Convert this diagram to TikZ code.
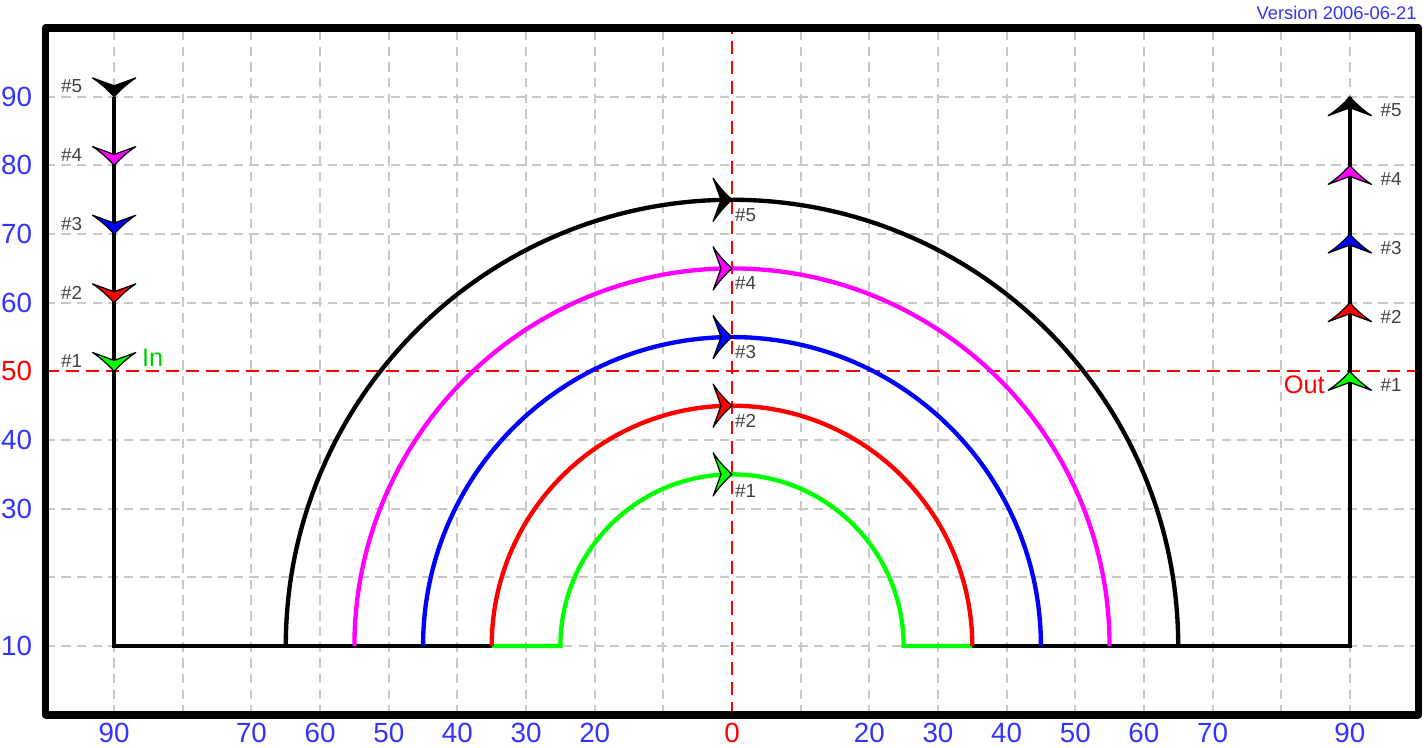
\documentclass[tikz,border=0pt]{standalone}
\usepackage{fontspec}
\setmainfont{Liberation Sans}
\definecolor{axisblue}{RGB}{51,51,255}
\definecolor{gridgray}{RGB}{200,200,200}
\definecolor{fgreen}{RGB}{0,255,0}
\definecolor{fred}{RGB}{255,0,0}
\definecolor{fblue}{RGB}{0,0,255}
\definecolor{fmag}{RGB}{255,0,255}
\newcommand\flowhead[4]{%
  \filldraw[ahd, fill=#4, shift={(#1,#2)}, rotate=#3]
    (0,0) .. controls (-1.0,0.9) and (-1.95,1.95) .. (-2.75,3.15)
    -- (-1.6,0) -- (-2.75,-3.15)
    .. controls (-1.95,-1.95) and (-1.0,-0.9) .. (0,0) -- cycle;}
\begin{document}
\begin{tikzpicture}[x=0.1cm,y=0.1cm,
  gridline/.style={draw=gridgray, line width=0.8pt, dash pattern=on 3.9pt off 2.6pt},
  axisline/.style={draw=fred, line width=0.8pt, dash pattern=on 5.4pt off 2.9pt},
  flow/.style={line width=1.8pt, line join=miter},
  frameline/.style={draw=black, line width=3.3pt, line join=round},
  axlabel/.style={font=\fontsize{11.5}{13}\selectfont, text=axisblue, inner sep=0pt},
  numlabel/.style={font=\fontsize{7.8}{9}\selectfont, text=black!75, inner sep=0pt},
  iolabel/.style={font=\fontsize{10.5}{12}\selectfont, inner sep=0pt},
  ahd/.style={draw=black, line width=0.5pt, line join=round}
]
\useasboundingbox (-106.63,-4.86) rectangle (100.80,104.10);
% grid
\foreach \x in {-90,-80,...,-10,10,20,...,90} \draw[gridline] (\x,0) -- (\x,100);
\foreach \y in {10,20,...,40,60,70,80,90} \draw[gridline] (-100,\y) -- (100,\y);
\draw[axisline] (0,0) -- (0,100);
\draw[axisline] (-100,50) -- (100,50);
% flow paths
\draw[flow] (-90,90) -- (-90,10) -- (-35,10);
\draw[flow] (35,10) -- (90,10) -- (90,90);
\draw[flow, fgreen] (-35,10) -- (-25,10) arc[start angle=180, end angle=0, radius=25] -- (35,10);
\draw[flow, fred] (-35,10) arc[start angle=180, end angle=0, radius=35];
\draw[flow, fblue] (-45,10) arc[start angle=180, end angle=0, radius=45];
\draw[flow, fmag] (-55,10) arc[start angle=180, end angle=0, radius=55];
\draw[flow, black] (-65,10) arc[start angle=180, end angle=0, radius=65];
% arrow heads, left (down)
\flowhead{-90}{90}{-90}{black}
\flowhead{-90}{80}{-90}{fmag}
\flowhead{-90}{70}{-90}{fblue}
\flowhead{-90}{60}{-90}{fred}
\flowhead{-90}{50}{-90}{fgreen}
% right (up)
\flowhead{90}{90}{90}{black}
\flowhead{90}{80}{90}{fmag}
\flowhead{90}{70}{90}{fblue}
\flowhead{90}{60}{90}{fred}
\flowhead{90}{50}{90}{fgreen}
% top of arcs (right)
\flowhead{0}{75}{0}{black}
\flowhead{0}{65}{0}{fmag}
\flowhead{0}{55}{0}{fblue}
\flowhead{0}{45}{0}{fred}
\flowhead{0}{35}{0}{fgreen}
% labels of arrows
\node[numlabel, anchor=east] (l5) at (-94.6,91.5) {\#5};
\node[numlabel, anchor=east] (l4) at (-94.6,81.5) {\#4};
\node[numlabel, anchor=east] (l3) at (-94.6,71.5) {\#3};
\node[numlabel, anchor=east] (l2) at (-94.6,61.5) {\#2};
\node[numlabel, anchor=east] (l1) at (-94.6,51.5) {\#1};
\node[numlabel, anchor=west] (r5) at (94.4,88) {\#5};
\node[numlabel, anchor=west] (r4) at (94.4,78) {\#4};
\node[numlabel, anchor=west] (r3) at (94.4,68) {\#3};
\node[numlabel, anchor=west] (r2) at (94.4,58) {\#2};
\node[numlabel, anchor=west] (r1) at (94.4,48) {\#1};
\node[numlabel, anchor=west] (t5) at (0.4,72.8) {\#5};
\node[numlabel, anchor=west] (t4) at (0.4,62.8) {\#4};
\node[numlabel, anchor=west] (t3) at (0.4,52.8) {\#3};
\node[numlabel, anchor=west] (t2) at (0.4,42.8) {\#2};
\node[numlabel, anchor=west] (t1) at (0.4,32.6) {\#1};
\node[iolabel, text=fgreen!80!black, anchor=west] (inlab) at (-86,52) {In};
\node[iolabel, text=fred, anchor=east] (outlab) at (86.4,48) {Out};
% axis labels
\foreach \v/\c in {90/axisblue,80/axisblue,70/axisblue,60/axisblue,50/fred,40/axisblue,30/axisblue,10/axisblue}
  \node[axlabel, text=\c] (ly\v) at (-104.2,\v) {\v};
\foreach \p/\t/\c in {-90/90/axisblue,-70/70/axisblue,-60/60/axisblue,-50/50/axisblue,-40/40/axisblue,-30/30/axisblue,-20/20/axisblue,0/0/fred,20/20/axisblue,30/30/axisblue,40/40/axisblue,50/50/axisblue,60/60/axisblue,70/70/axisblue,90/90/axisblue}
  \node[axlabel, text=\c] (lx\p) at (\p,-2.67) {\t};
\node[font=\fontsize{7.6}{9}\selectfont, text=axisblue, inner sep=0pt, anchor=east] (ver) at (99.8,102.2) {Version 2006-06-21};
% frame
\draw[frameline] (-100,0) rectangle (100,100);
\end{tikzpicture}
\end{document}
